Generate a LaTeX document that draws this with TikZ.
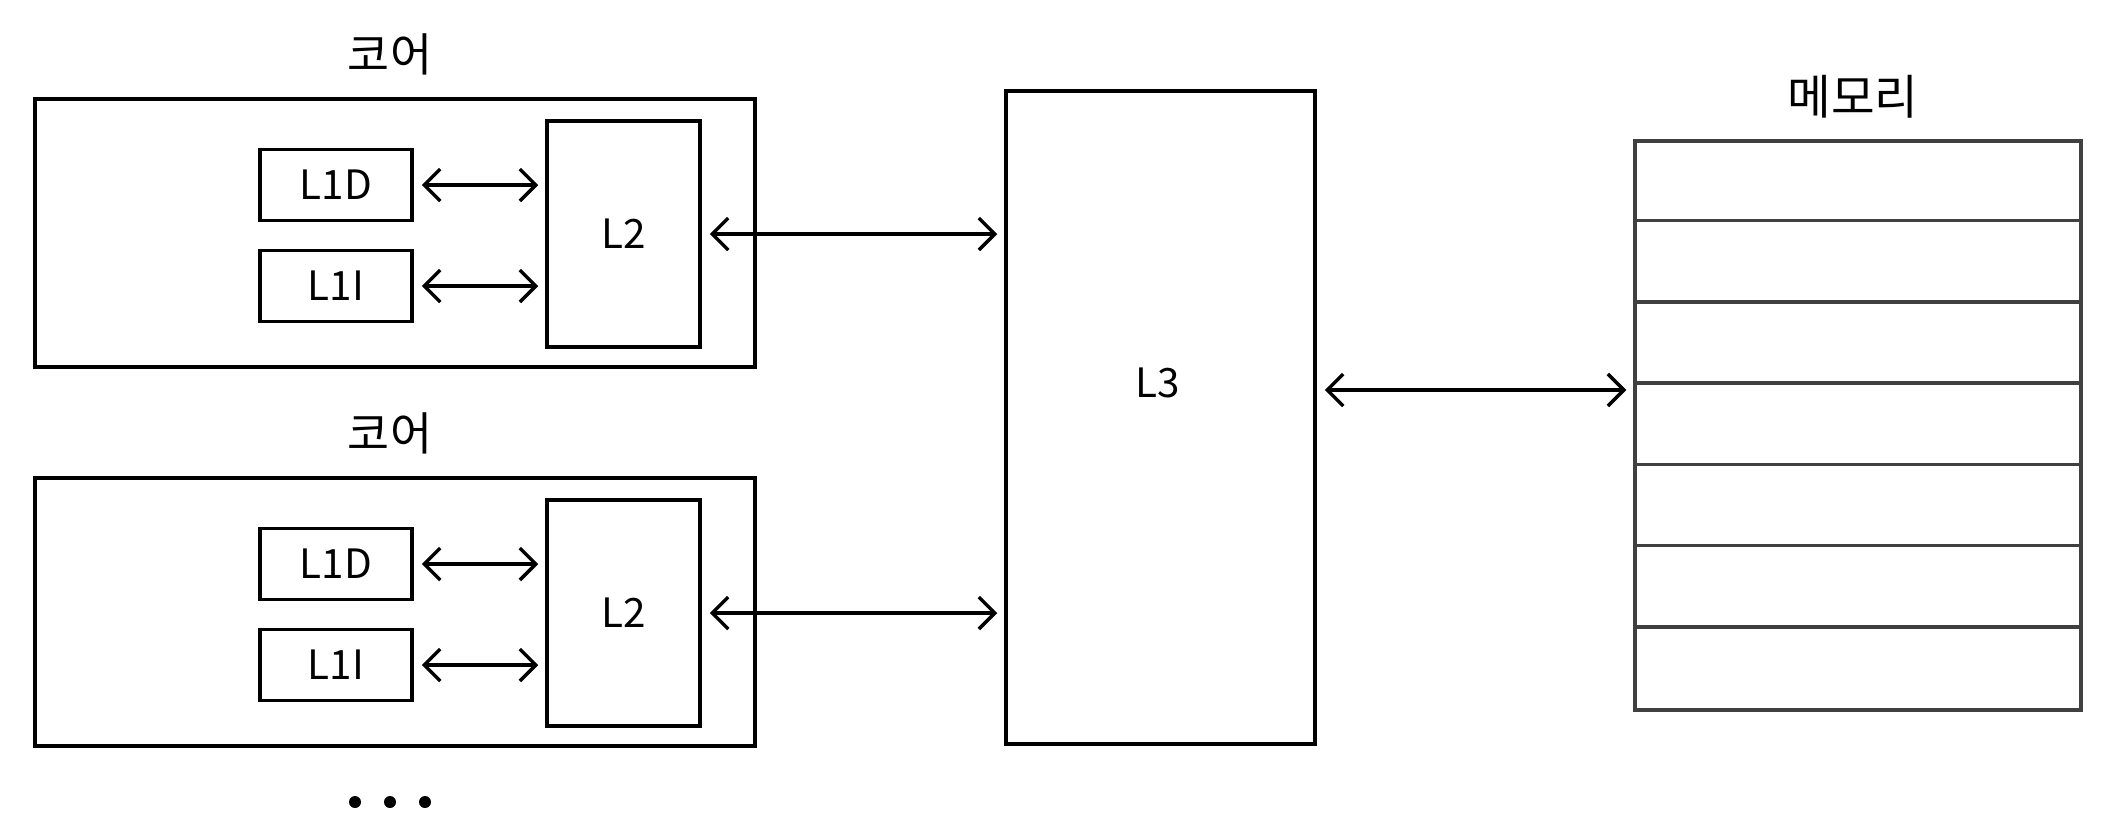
\documentclass[tikz,border=0pt]{standalone}
\usepackage{fontspec}
\setmainfont{Noto Sans CJK KR}
\usetikzlibrary{arrows.meta,positioning}

\begin{document}
\begin{tikzpicture}[font=\fontsize{11.5}{13}\selectfont,>={Straight Barb[length=1.6mm,width=3.2mm]},
 box/.style={draw,line width=1pt,inner sep=0pt},
 link/.style={<->,line width=1pt,shorten <=0.08cm,shorten >=0.07cm},
 title/.style={font=\fontsize{13}{15}\selectfont},
 memline/.style={draw=black!75,line width=1pt}]
\useasboundingbox (0,0) rectangle (21.24,8.36);
\node[box,line width=1pt,minimum width=3.09cm,minimum height=6.53cm](L3) at (11.605,4.185){};
\node(L3lbl) at (11.58,4.53){L3};
\foreach \y/\n in {0/A,3.79/B}
 {\node[box,minimum width=7.2cm,minimum height=2.68cm](core\n) at (3.95,6.03-\y){};
 \node[title](corelbl\n) at (3.90,7.82-\y){코어};
 \node[box,minimum width=1.52cm,minimum height=0.71cm](lid\n) at (3.36,6.51-\y){L1D};
 \node[box,minimum width=1.52cm,minimum height=0.71cm](lii\n) at (3.36,5.50-\y){L1I};
 \node[box,minimum width=1.53cm,minimum height=2.26cm](ltwo\n) at (6.235,6.02-\y){L2};
 \draw[link](lid\n.east)--(lid\n.east-|ltwo\n.west);
 \draw[link](lii\n.east)--(lii\n.east-|ltwo\n.west);
 \draw[link](ltwo\n.east)--(ltwo\n.east-|L3.west);}
\foreach \x in {3.55,3.90,4.25}
 \fill (\x,0.34) circle (0.06);
% memory
\node[memline,minimum width=4.46cm,minimum height=5.69cm](mem) at (18.58,4.105){};
\node[title,font=\fontsize{13.5}{15}\selectfont](memlbl) at (18.53,7.39){메모리};
\foreach \k in {1,...,6}
 \draw[memline]([yshift=-\k*8.129mm]mem.north west)--([yshift=-\k*8.129mm]mem.north east);
\draw[link]([yshift=2.75mm]L3.east)--([yshift=2.75mm]L3.east-|mem.west);
\end{tikzpicture}
\end{document}
